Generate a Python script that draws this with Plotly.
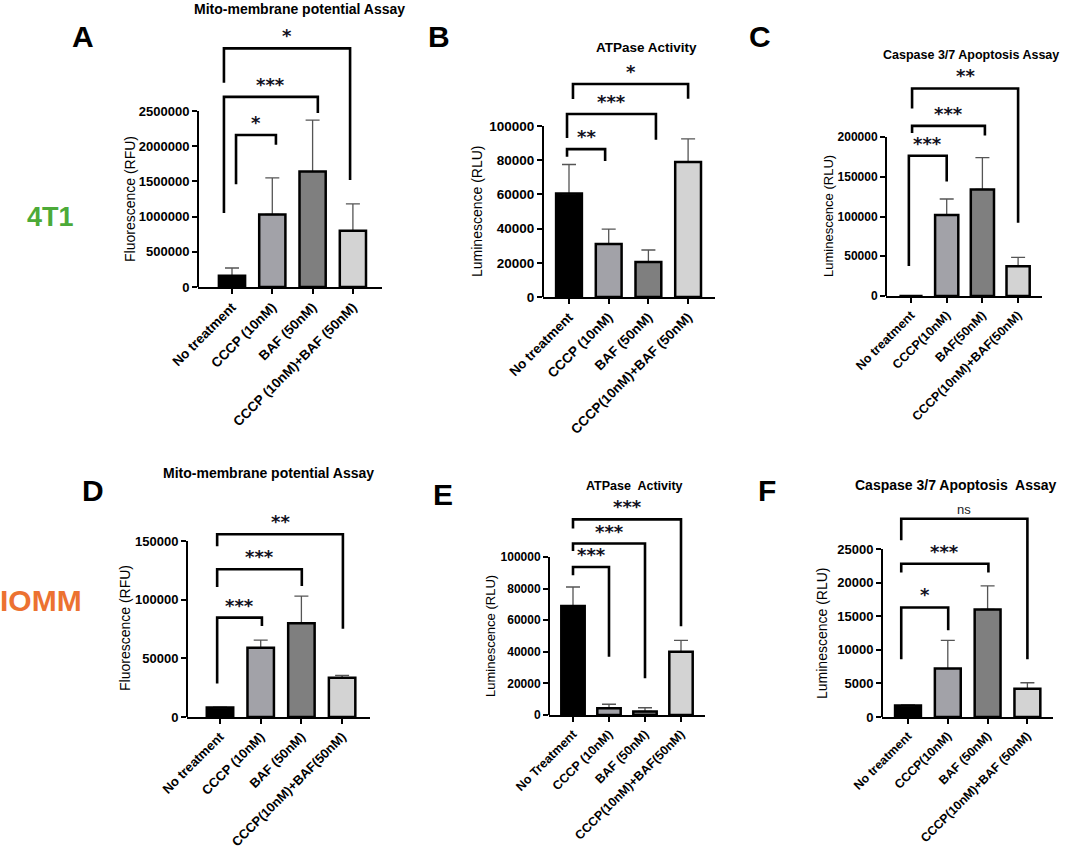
import plotly.graph_objects as go

W, H = 1065, 849
FONT = "Liberation Sans, Arial, sans-serif"
FILLS = ["#000000", "#a2a2a8", "#7f7f7f", "#d3d3d3"]

# ---- values ----
# brackets: (x left, x right, top, left leg end, right leg end, label)

cats_a = ["No treatment", "CCCP (10nM)", "BAF (50nM)", "CCCP (10nM)+BAF (50nM)"]
mean_a = [160000, 1030000, 1640000, 800000]
sd_a = [110000, 520000, 730000, 380000]
brackets_a = [
    (0.1, 1.09, 2160000, 1460000, 2020000, "*"),
    (-0.2, 2.13, 2700000, 1050000, 2470000, "***"),
    (-0.2, 2.93, 3390000, 2900000, 1520000, "*"),
]

cats_b = ["No treatment", "CCCP (10nM)", "BAF (50nM)", "CCCP(10nM)+BAF (50nM)"]
mean_b = [60500, 31000, 20500, 79000]
sd_b = [17000, 8700, 7000, 13500]
brackets_b = [
    (-0.05, 0.91, 86500, 82000, 79500, "**"),
    (-0.05, 2.19, 107000, 93000, 92000, "***"),
    (0.1, 3.0, 124600, 115800, 116000, "*"),
]

cats_c = ["No treatment", "CCCP(10nM)", "BAF(50nM)", "CCCP(10nM)+BAF(50nM)"]
mean_c = [0, 102000, 134000, 37500]
sd_c = [0, 20000, 40000, 11000]
brackets_c = [
    (-0.06, 1.0, 176500, 37700, 144000, "***"),
    (0.03, 2.07, 214000, 205000, 202000, "***"),
    (0.03, 3.0, 261000, 236000, 92000, "**"),
]

cats_d = ["No treatment", "CCCP (10nM)", "BAF (50nM)", "CCCP(10nM)+BAF(50nM)"]
mean_d = [8000, 59000, 80000, 33500]
sd_d = [500, 6500, 23000, 2000]
brackets_d = [
    (-0.07, 1.03, 84700, 28500, 77600, "***"),
    (-0.07, 2.01, 125900, 110800, 111600, "***"),
    (-0.07, 3.02, 155700, 145500, 75300, "**"),
]

cats_e = ["No Treatment", "CCCP (10nM)", "BAF (50nM)", "CCCP(10nM)+BAF(50nM)"]
mean_e = [69000, 4200, 2200, 40000]
sd_e = [12000, 2600, 2400, 7200]
brackets_e = [
    (0, 1, 93700, 88400, 36800, "***"),
    (0, 2, 108500, 103800, 23200, "***"),
    (0, 3, 123800, 118000, 56200, "***"),
]

cats_f = ["No treatment", "CCCP(10nM)", "BAF (50nM)", "CCCP(10nM)+BAF (50nM)"]
mean_f = [1700, 7200, 16000, 4200]
sd_f = [100, 4200, 3500, 900]
brackets_f = [
    (-0.17, 1.01, 16300, 8600, 12900, "*"),
    (-0.17, 2.02, 22800, 21500, 21500, "***"),
    (-0.17, 3.0, 29500, 26300, 8600, "ns"),
]

titles = [
    "Mito-membrane potential Assay", "ATPase Activity", "Caspase 3/7 Apoptosis Assay",
    "Mito-membrane potential Assay", "ATPase  Activity", "Caspase 3/7 Apoptosis  Assay",
]
ytitles = [
    "Fluorescence (RFU)", "Luminescence (RLU)", "Luminescence (RLU)",
    "Fluorescence (RFU)", "Luminescence (RLU)", "Luminescence (RLU)",
]
letters = ["A", "B", "C", "D", "E", "F"]
yticks_max = [2500000, 100000, 200000, 150000, 100000, 25000]
yticks_step = [500000, 20000, 50000, 50000, 20000, 5000]

panels = [
    (cats_a, mean_a, sd_a, brackets_a),
    (cats_b, mean_b, sd_b, brackets_b),
    (cats_c, mean_c, sd_c, brackets_c),
    (cats_d, mean_d, sd_d, brackets_d),
    (cats_e, mean_e, sd_e, brackets_e),
    (cats_f, mean_f, sd_f, brackets_f),
]

# ---- placement in pixels (page coordinates) ----
# axis x, axis end, first bar centre, bar step, zero y, top tick y, plot top y
frames = [
    dict(axis=198, end=382, c0=232, step=40.3, zero=287, tick=111, top=38),
    dict(axis=543, end=715, c0=569, step=39.7, zero=297, tick=126, top=74),
    dict(axis=886, end=1042, c0=911, step=35.7, zero=296, tick=137, top=78),
    dict(axis=187, end=370, c0=220, step=40.7, zero=717, tick=541, top=504),
    dict(axis=549, end=705, c0=573, step=36, zero=715, tick=557, top=492),
    dict(axis=882, end=1053, c0=908, step=39.8, zero=717, tick=549, top=510),
]
title_pos = [(299, 9, 14), (646, 48, 13.5), (971, 55, 12.5), (268, 473, 14), (635, 486, 12.5), (955, 485, 14)]
ytitle_pos = [(130, 199, 14), (477, 211, 14), (828, 216, 13), (125, 628, 14), (490, 636, 13), (822, 633, 14)]
letter_pos = [(83, 37), (439, 37), (760, 37), (93, 490), (443, 494), (767, 490)]
cat_size = [13.5, 13.5, 12.5, 13, 12.5, 12.3]
tick_size = [13, 13.5, 12, 13, 12, 13]


def px(x):
    return x / W


def py(y):
    return 1 - y / H


fig = go.Figure()
layout = {}
for n, ((cats, mean, sd, brackets), fr) in enumerate(zip(panels, frames), start=1):
    sfx = "" if n == 1 else str(n)
    xa, ya = f"x{sfx}", f"y{sfx}"
    xs = list(range(len(cats)))

    fig.add_trace(go.Bar(
        x=xs, y=mean, xaxis=xa, yaxis=ya, width=0.65,
        marker=dict(color=FILLS, line=dict(width=0)),
        error_y=dict(type="data", array=[e if e else None for e in sd],
                     arrayminus=[0 if e else None for e in sd], symmetric=False,
                     color="#555555", thickness=1.3, width=7),
        showlegend=False, hoverinfo="skip",
    ))
    fig.add_trace(go.Bar(
        x=xs, y=mean, xaxis=xa, yaxis=ya, width=0.65,
        marker=dict(color="rgba(0,0,0,0)", line=dict(color="black", width=2.5)),
        showlegend=False, hoverinfo="skip",
    ))
    for xl, xr, top, yl, yr, lab in brackets:
        fig.add_trace(go.Scatter(
            x=[xl, xl, xr, xr], y=[yl, top, top, yr], mode="lines",
            line=dict(color="black", width=2.6), xaxis=xa, yaxis=ya,
            showlegend=False, hoverinfo="skip",
        ))
        if lab == "ns":
            font = dict(family=FONT, size=13, color="#222222")
        else:
            font = dict(family="DejaVu Sans", size=18, color="#101020", weight="bold")
        fig.add_annotation(x=(xl + xr) / 2, y=top, xref=xa, yref=ya, text=lab,
                           showarrow=False, yanchor="bottom", yshift=0, font=font)

    x_lo = -(fr["c0"] - fr["axis"]) / fr["step"]
    x_hi = 3 + (fr["end"] - fr["c0"] - 3 * fr["step"]) / fr["step"]
    ymax = yticks_max[n - 1]
    y_hi = (fr["zero"] - fr["top"]) / (fr["zero"] - fr["tick"]) * ymax
    layout[f"xaxis{sfx}"] = dict(
        domain=[px(fr["axis"]), px(fr["end"])], range=[x_lo, x_hi], anchor=ya,
        tickvals=xs, ticktext=cats, tickangle=-45, automargin=False,
        showline=True, linecolor="black", linewidth=2,
        ticks="outside", ticklen=5, tickwidth=2, tickcolor="black",
        showgrid=False, zeroline=False,
        tickfont=dict(family=FONT, size=cat_size[n - 1], color="black", weight="bold"),
    )
    layout[f"yaxis{sfx}"] = dict(
        domain=[py(fr["zero"]), py(fr["top"])], range=[0, y_hi], anchor=xa,
        tickvals=list(range(0, ymax + 1, yticks_step[n - 1])), tickformat="d",
        automargin=False,
        showline=False, ticks="outside", ticklen=5, tickwidth=2, tickcolor="black",
        showgrid=False, zeroline=False,
        tickfont=dict(family=FONT, size=tick_size[n - 1], color="black", weight="bold"),
    )
    # y spine only up to the top tick
    fig.add_shape(type="line", xref=f"{xa} domain", yref=ya, x0=0, x1=0, y0=0, y1=ymax,
                  line=dict(color="black", width=2))

    tx, ty, ts = title_pos[n - 1]
    fig.add_annotation(x=px(tx), y=py(ty), xref="paper", yref="paper", text=titles[n - 1],
                       showarrow=False, xanchor="center", yanchor="middle",
                       font=dict(family=FONT, size=ts, color="black", weight="bold"))
    yx, yy, ys = ytitle_pos[n - 1]
    fig.add_annotation(x=px(yx), y=py(yy), xref="paper", yref="paper", text=ytitles[n - 1],
                       showarrow=False, textangle=-90, xanchor="center", yanchor="middle",
                       font=dict(family=FONT, size=ys, color="#000000"))
    lx, ly = letter_pos[n - 1]
    fig.add_annotation(x=px(lx), y=py(ly), xref="paper", yref="paper", text=letters[n - 1],
                       showarrow=False, xanchor="center", yanchor="middle",
                       font=dict(family=FONT, size=30, color="black", weight="bold"))

fig.add_annotation(x=px(50), y=py(217), xref="paper", yref="paper", text="4T1",
                   showarrow=False, xanchor="center", yanchor="middle",
                   font=dict(family=FONT, size=27, color="#4caa38", weight="bold"))
fig.add_annotation(x=px(-2), y=py(600), xref="paper", yref="paper", text="IOMM",
                   showarrow=False, xanchor="left", yanchor="middle",
                   font=dict(family=FONT, size=30, color="#ec7231", weight="bold"))

fig.update_layout(
    width=W, height=H,
    margin=dict(l=0, r=0, t=0, b=0, autoexpand=False),
    paper_bgcolor="white", plot_bgcolor="white",
    barmode="overlay",
    showlegend=False,
    **layout,
)

fig.write_html("out.html", config={"displayModeBar": False},
               post_script="document.body.style.margin='0';")
